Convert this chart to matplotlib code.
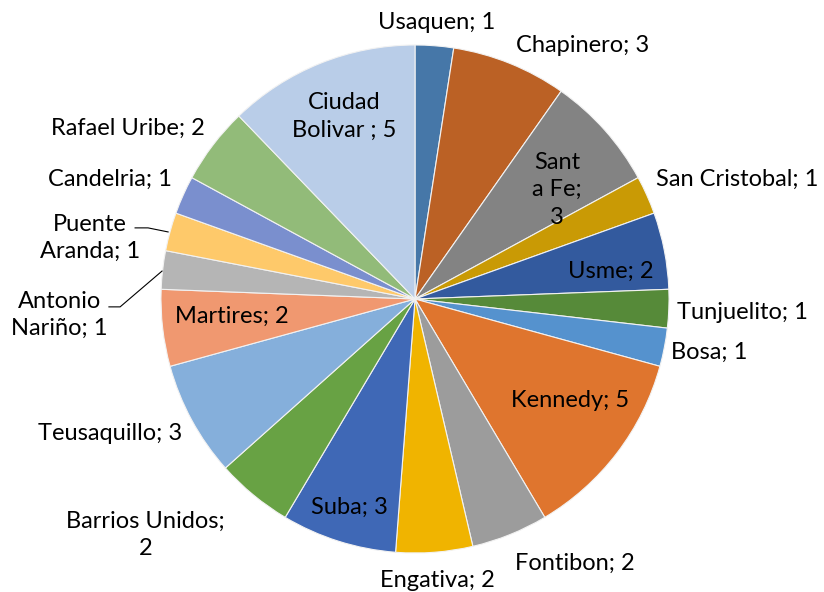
import numpy as np
import matplotlib
matplotlib.use("Agg")
import matplotlib.pyplot as plt

plt.rcParams['font.family'] = ['Lato', 'DejaVu Sans']

# Datos por localidad (orden de las manecillas del reloj desde arriba)
localidades = ['Usaquen', 'Chapinero', 'Santa Fe', 'San Cristobal', 'Usme',
               'Tunjuelito', 'Bosa', 'Kennedy', 'Fontibon', 'Engativa',
               'Suba', 'Barrios Unidos', 'Teusaquillo', 'Martires',
               'Antonio Nariño', 'Puente Aranda', 'Candelria', 'Rafael Uribe',
               'Ciudad Bolivar']
valores = [1, 3, 3, 1, 2, 1, 1, 5, 2, 2, 3, 2, 3, 2, 1, 1, 1, 2, 5]
etiquetas = ['Usaquen; 1', 'Chapinero; 3', 'Sant\na Fe;\n3', 'San Cristobal; 1',
             'Usme; 2', 'Tunjuelito; 1', 'Bosa; 1', 'Kennedy; 5', 'Fontibon; 2',
             'Engativa; 2', 'Suba; 3', 'Barrios Unidos;\n2', 'Teusaquillo; 3',
             'Martires; 2', 'Antonio\nNariño; 1', 'Puente\nAranda; 1',
             'Candelria; 1', 'Rafael Uribe; 2', 'Ciudad\nBolivar ; 5']

colores = ['#4677A8', '#BB6125', '#838383', '#C99A05', '#335A9E', '#568A39',
           '#5592CE', '#DF752E', '#9C9C9C', '#F0B400', '#3F68B6', '#68A244',
           '#85AFDB', '#F09870', '#B5B5B5', '#FEC96A', '#7A8FCE', '#92BB79',
           '#B9CDE8']

# Posicion de cada etiqueta (en radios del pastel)
pos_etiquetas = [(0.087, 1.09), (0.66, 1.00), (0.56, 0.43), (1.27, 0.47),
                 (0.77, 0.11), (1.29, -0.055), (1.16, -0.21), (0.61, -0.40),
                 (0.63, -1.04), (0.087, -1.11), (-0.26, -0.82), (-1.06, -0.93),
                 (-1.20, -0.53), (-0.72, -0.067), (-1.40, -0.063),
                 (-1.28, 0.24), (-1.20, 0.47), (-1.13, 0.67), (-0.28, 0.72)]

fig = plt.figure(figsize=(8.24, 5.92), dpi=100)
ax = fig.add_axes([0, 0, 1, 1])

ax.pie(valores, colors=colores, startangle=90, counterclock=False, radius=1,
       wedgeprops=dict(edgecolor='#f2f2f2', linewidth=0.8))

for texto, (x, y) in zip(etiquetas, pos_etiquetas):
    ax.text(x, y, texto, ha='center', va='center', fontsize=17,
            color='black', linespacing=1.38)

# Lineas guia
ax.plot([-1.102, -1.051, -0.972], [0.280, 0.280, 0.264], color='black', lw=0.8)
ax.plot([-1.205, -1.161, -0.996], [-0.031, -0.031, 0.110], color='black', lw=0.8)

ax.set_xlim(-415 / 254, (824 - 415) / 254)
ax.set_ylim(-(592 - 299) / 254, 299 / 254)
ax.set_aspect('auto')
ax.axis('off')

plt.savefig("out.png", dpi=100)
